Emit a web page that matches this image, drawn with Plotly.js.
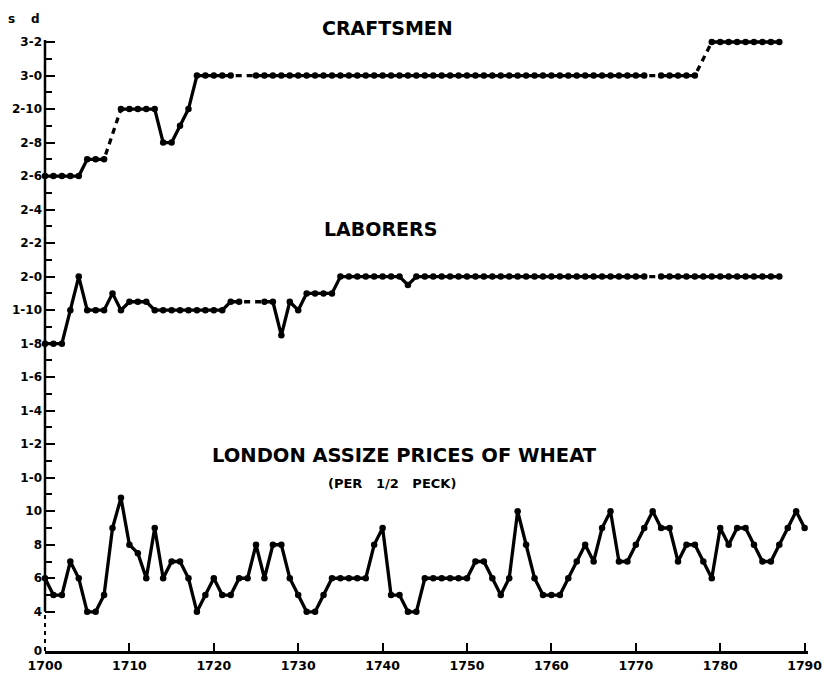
<!DOCTYPE html>
<html>
<head>
<meta charset="utf-8">
<script src="https://cdn.plot.ly/plotly-3.0.1.min.js"></script>
<style>
html,body{margin:0;padding:0;background:#fff;}
#chart{width:828px;height:674px;}
</style>
</head>
<body>
<div id="chart"></div>
<script>
// ---- data (pence; null = year missing, bridged by a dashed line) ----
const startYear = 1700;

const craftsmenPence = [
  30,30,30,30,30,31,31,31,null,34,
  34,34,34,34,32,32,33,34,36,36,
  36,36,36,null,null,36,36,36,36,36,
  36,36,36,36,36,36,36,36,36,36,
  36,36,36,36,36,36,36,36,36,36,
  36,36,36,36,36,36,36,36,36,36,
  36,36,36,36,36,36,36,36,36,36,
  36,36,null,36,36,36,36,36,null,38,
  38,38,38,38,38,38,38,38
];

const laborersPence = [
  20,20,20,22,24,22,22,22,23,22,
  22.5,22.5,22.5,22,22,22,22,22,22,22,
  22,22,22.5,22.5,null,null,22.5,22.5,20.5,22.5,
  22,23,23,23,23,24,24,24,24,24,
  24,24,24,23.5,24,24,24,24,24,24,
  24,24,24,24,24,24,24,24,24,24,
  24,24,24,24,24,24,24,24,24,24,
  24,24,null,24,24,24,24,24,24,24,
  24,24,24,24,24,24,24,24
];

const wheatPence = [
  6,5,5,7,6,4,4,5,9,10.8,
  8,7.5,6,9,6,7,7,6,4,5,
  6,5,5,6,6,8,6,8,8,6,
  5,4,4,5,6,6,6,6,6,8,
  9,5,5,4,4,6,6,6,6,6,
  6,7,7,6,5,6,10,8,6,5,
  5,5,6,7,8,7,9,10,7,7,
  8,9,10,9,9,7,8,8,7,6,
  9,8,9,9,8,7,7,8,9,10,
  9
];

const xTickVals = [1700,1710,1720,1730,1740,1750,1760,1770,1780,1790];
const xTickText = ["1700","1710","1720","1730","1740","1750","1760","1770","1780","1790"];

const yAxisBottom = 1.66;
const yTickVals = [yAxisBottom,4,6,8,10,12,14,16,18,20,22,24,26,28,30,32,34,36,38];
const yTickText = ["0","4","6","8","10","1-0","1-2","1-4","1-6","1-8","1-10","2-0","2-2","2-4","2-6","2-8","2-10","3-0","3-2"];
const yMinorVals = [5,7,9,11,13,15,17,19,21,23,25,27,29,31,33,35,37];

const seriesLabels = ["CRAFTSMEN","LABORERS","LONDON ASSIZE PRICES OF WHEAT","(PER   1/2   PECK)"];

// ---- build traces ----
function seriesTraces(values) {
  const years = values.map((v, i) => startYear + i);
  const solid = {
    x: years, y: values, type: 'scatter', mode: 'lines+markers',
    connectgaps: false, cliponaxis: false, hoverinfo: 'x+y',
    line: {color: '#000', width: 3.3},
    marker: {color: '#000', size: 6.5, symbol: 'circle'}
  };
  const bx = [], by = [];
  for (let i = 1; i < values.length; i++) {
    if (values[i] === null && values[i-1] !== null) {
      let j = i;
      while (j < values.length && values[j] === null) j++;
      if (j < values.length) {
        bx.push(years[i-1], years[j], null);
        by.push(values[i-1], values[j], null);
      }
    }
  }
  const dashed = {
    x: bx, y: by, type: 'scatter', mode: 'lines', hoverinfo: 'skip',
    line: {color: '#000', width: 3.3, dash: '0px,5px,6px,0px'}
  };
  return [dashed, solid];
}

const traces = [
  ...seriesTraces(craftsmenPence),
  ...seriesTraces(laborersPence),
  ...seriesTraces(wheatPence)
];

// pixel helpers for annotation placement
const L = 45, R = 20, T = 40, B = 23, W = 828, H = 674;
const px = x => (x - L) / (W - L - R);
const py = y => (H - B - y) / (H - T - B);

const boldFont = (s) => ({family: 'DejaVu Sans', size: s, color: '#000', weight: 'bold'});

const layout = {
  width: W, height: H,
  margin: {l: L, r: R, t: T, b: B, pad: 0},
  paper_bgcolor: '#fff', plot_bgcolor: '#fff',
  showlegend: false,
  font: {family: 'DejaVu Sans', color: '#000'},
  xaxis: {
    range: [1700, 1790.4],
    tickmode: 'array', tickvals: xTickVals, ticktext: xTickText,
    ticks: 'inside', ticklen: 8, tickwidth: 2, tickcolor: '#000',
    showline: true, linewidth: 2.5, linecolor: '#000',
    showgrid: false, zeroline: false,
    tickfont: boldFont(12.5), ticklabelstandoff: 1
  },
  yaxis: {
    range: [yAxisBottom, 38.12],
    tickmode: 'array', tickvals: yTickVals, ticktext: yTickText,
    ticks: 'inside', ticklen: 10, tickwidth: 2, tickcolor: '#000',
    minor: {tickmode: 'array', tickvals: yMinorVals, ticks: 'inside', ticklen: 7, tickwidth: 2, tickcolor: '#000', showgrid: false},
    showline: false, showgrid: false, zeroline: false,
    tickfont: boldFont(12), ticklabelstandoff: 2
  },
  shapes: [
    {type: 'line', xref: 'paper', yref: 'y', x0: 0, x1: 0, y0: 4, y1: 38.12, line: {color: '#000', width: 2.5}},
    {type: 'line', xref: 'paper', yref: 'y', x0: 0, x1: 0, y0: yAxisBottom, y1: 4, line: {color: '#000', width: 2, dash: '4px,4px'}}
  ],
  annotations: [
    {text: 's', xref: 'paper', yref: 'paper', x: px(11), y: py(19), showarrow: false, font: boldFont(12), xanchor: 'center', yanchor: 'middle'},
    {text: 'd', xref: 'paper', yref: 'paper', x: px(35), y: py(19), showarrow: false, font: boldFont(12), xanchor: 'center', yanchor: 'middle'},
    {text: seriesLabels[0], xref: 'paper', yref: 'paper', x: px(387), y: py(28), showarrow: false, font: boldFont(19), xanchor: 'center', yanchor: 'middle'},
    {text: seriesLabels[1], xref: 'paper', yref: 'paper', x: px(380), y: py(229), showarrow: false, font: boldFont(19), xanchor: 'center', yanchor: 'middle'},
    {text: seriesLabels[2], xref: 'paper', yref: 'paper', x: px(404), y: py(455), showarrow: false, font: boldFont(19.5), xanchor: 'center', yanchor: 'middle'},
    {text: seriesLabels[3], xref: 'paper', yref: 'paper', x: px(392), y: py(483), showarrow: false, font: boldFont(13), xanchor: 'center', yanchor: 'middle'}
  ]
};

Plotly.newPlot('chart', traces, layout, {displayModeBar: false, staticPlot: true});
</script>
</body>
</html>
